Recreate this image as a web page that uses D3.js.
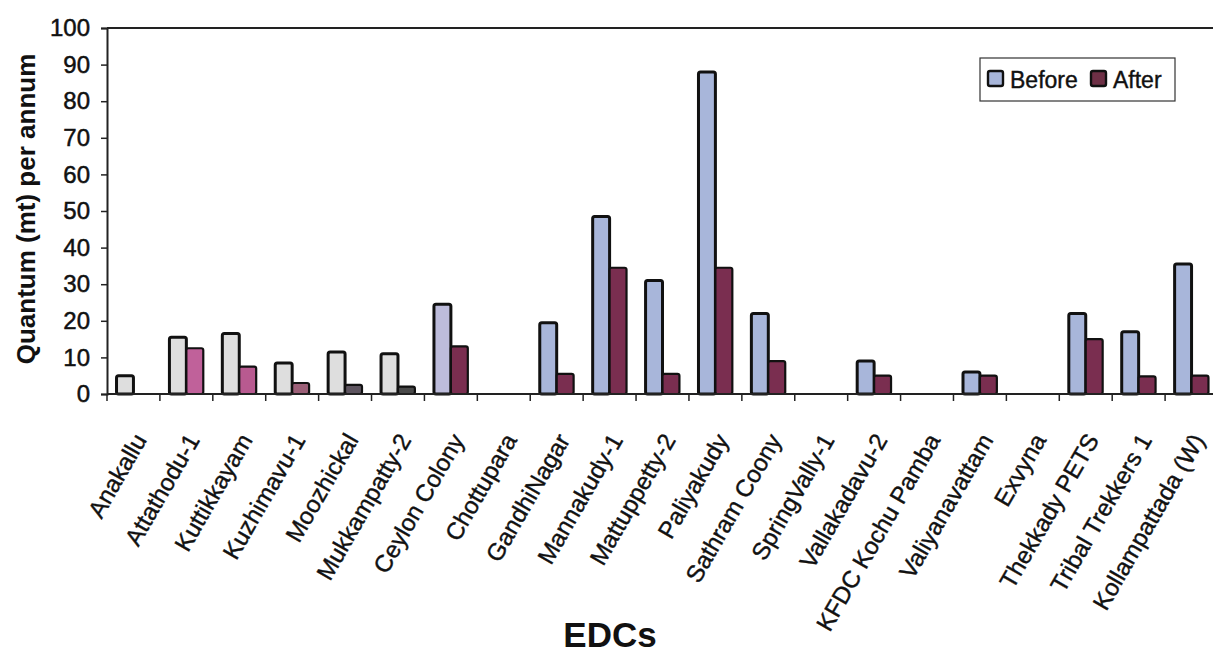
<!DOCTYPE html>
<html>
<head>
<meta charset="utf-8">
<script src="https://cdn.jsdelivr.net/npm/d3@7"></script>
<style>
  body { margin: 0; background: #fff; }
  svg { display: block; font-family: "Liberation Sans", Arial, sans-serif; }
</style>
</head>
<body>
<div id="chart"></div>
<script>
// data
var categories = ["Anakallu", "Attathodu-1", "Kuttikkayam", "Kuzhimavu-1", "Moozhickal",
  "Mukkampatty-2", "Ceylon Colony", "Chottupara", "GandhiNagar", "Mannakudy-1",
  "Mattuppetty-2", "Paliyakudy", "Sathram Coony", "SpringVally-1", "Vallakadavu-2",
  "KFDC Kochu Pamba", "Valiyanavattam", "Exvyna", "Thekkady PETS", "Tribal Trekkers 1",
  "Kollampattada (W)"];
var before = [5, 15.5, 16.5, 8.5, 11.5, 11, 24.5, 0, 19.5, 48.5, 31, 88, 22, 0, 9, 0, 6, 0, 22, 17, 35.5];
var after = [0, 12.5, 7.5, 3, 2.5, 2, 13, 0, 5.5, 34.5, 5.5, 34.5, 9, 0, 5, 0, 5, 0, 15, 4.8, 5];
var seriesNames = ["Before", "After"];
var yTicks = [0, 10, 20, 30, 40, 50, 60, 70, 80, 90, 100];

// the scan drifts in colour from left to right
var beforeFill = ["#dedede", "#dedede", "#dedede", "#dedede", "#dedede", "#dedede", "#bdbcdb"];
var afterFill = ["#7a2e50", "#c0619a", "#b85a90", "#9c6078", "#5e5560", "#4a4a4a"];
var legendFill = ["#a8b6da", "#6e3046"];

function init() {
  var w = 1213, h = 653;
  var left = 107, right = 1218, top = 28, base = 394;

  var svg = d3.select("#chart").append("svg")
    .attr("width", w)
    .attr("height", h);

  var x0 = d3.scaleBand()
    .domain(categories)
    .range([left, right])
    .paddingInner(0.36)
    .paddingOuter(0.18);

  var x1 = d3.scaleBand()
    .domain(seriesNames)
    .range([0, x0.bandwidth()]);

  var y = d3.scaleLinear()
    .domain([0, 100])
    .range([base, top]);

  // plot area border (top) and axes
  svg.append("line")
    .attr("x1", left).attr("x2", w)
    .attr("y1", y(100)).attr("y2", y(100))
    .attr("stroke", "#222").attr("stroke-width", 2);

  var yAxis = svg.append("g")
    .attr("transform", "translate(" + left + ",0)")
    .call(d3.axisLeft(y).tickValues(yTicks).tickSize(6).tickPadding(11));
  yAxis.select(".domain").attr("stroke", "#222").attr("stroke-width", 2);
  yAxis.selectAll(".tick line").attr("stroke", "#222").attr("stroke-width", 1.5);
  yAxis.selectAll(".tick text")
    .attr("font-size", "24px")
    .attr("fill", "#111")
    .attr("stroke", "#111")
    .attr("stroke-width", 0.5)
    .attr("font-family", "Liberation Sans, Arial, sans-serif");

  // bars
  var groups = svg.selectAll("g.cat")
    .data(categories)
    .enter()
    .append("g")
    .attr("class", "cat")
    .attr("transform", function (d) { return "translate(" + x0(d) + ",0)"; });

  groups.each(function (d, i) {
    var g = d3.select(this);
    var vals = [before[i], after[i]];
    vals.forEach(function (v, k) {
      if (v <= 0) return;
      var fill = k === 0 ? (beforeFill[i] || "#a8b6da") : (i < afterFill.length && i > 0 ? afterFill[i] : "#7a2e50");
      g.append("rect")
        .attr("x", x1(seriesNames[k]))
        .attr("y", y(v))
        .attr("width", x1.bandwidth())
        .attr("height", y(0) - y(v))
        .attr("rx", 2)
        .attr("fill", fill)
        .attr("stroke", "#111")
        .attr("stroke-width", k === 0 ? 3 : 2.2);
    });
  });

  // x axis with ticks between categories
  svg.append("line")
    .attr("x1", left).attr("x2", w)
    .attr("y1", base).attr("y2", base)
    .attr("stroke", "#222").attr("stroke-width", 2);

  var step = x0.step();
  svg.selectAll("line.xtick")
    .data(categories)
    .enter()
    .append("line")
    .attr("class", "xtick")
    .attr("x1", function (d) { return x0(d) - step * 0.18; })
    .attr("x2", function (d) { return x0(d) - step * 0.18; })
    .attr("y1", base)
    .attr("y2", base + 7)
    .attr("stroke", "#222")
    .attr("stroke-width", 1.5);

  svg.selectAll("text.xlab")
    .data(categories)
    .enter()
    .append("text")
    .attr("class", "xlab")
    .attr("transform", function (d) {
      var cx = x0(d) + x0.bandwidth() / 2 + 14;
      return "translate(" + cx + "," + (base + 46) + ") rotate(-60)";
    })
    .attr("text-anchor", "end")
    .attr("font-size", "24px")
    .attr("fill", "#111")
    .attr("stroke", "#111")
    .attr("stroke-width", 0.4)
    .text(function (d) { return d; });

  // axis titles
  svg.append("text")
    .attr("transform", "translate(35,209) rotate(-90)")
    .attr("text-anchor", "middle")
    .attr("font-size", "26px")
    .attr("font-weight", "bold")
    .attr("fill", "#111")
    .text("Quantum (mt) per annum");

  svg.append("text")
    .attr("x", 610)
    .attr("y", 647)
    .attr("text-anchor", "middle")
    .attr("font-size", "35px")
    .attr("font-weight", "bold")
    .attr("fill", "#111")
    .text("EDCs");

  // legend
  var legend = svg.append("g").attr("transform", "translate(980,58)");
  legend.append("rect")
    .attr("width", 195).attr("height", 43)
    .attr("fill", "#fff")
    .attr("stroke", "#333").attr("stroke-width", 1.2);
  var lx = [8, 111];
  seriesNames.forEach(function (s, k) {
    legend.append("rect")
      .attr("x", lx[k]).attr("y", 13)
      .attr("width", 15).attr("height", 15)
      .attr("rx", 2)
      .attr("fill", legendFill[k])
      .attr("stroke", "#111").attr("stroke-width", 2.4);
    legend.append("text")
      .attr("x", lx[k] + 22).attr("y", 30)
      .attr("font-size", "23px")
      .attr("fill", "#111")
      .attr("stroke", "#111")
      .attr("stroke-width", 0.4)
      .text(s);
  });
}

window.onload = init;
</script>
</body>
</html>
